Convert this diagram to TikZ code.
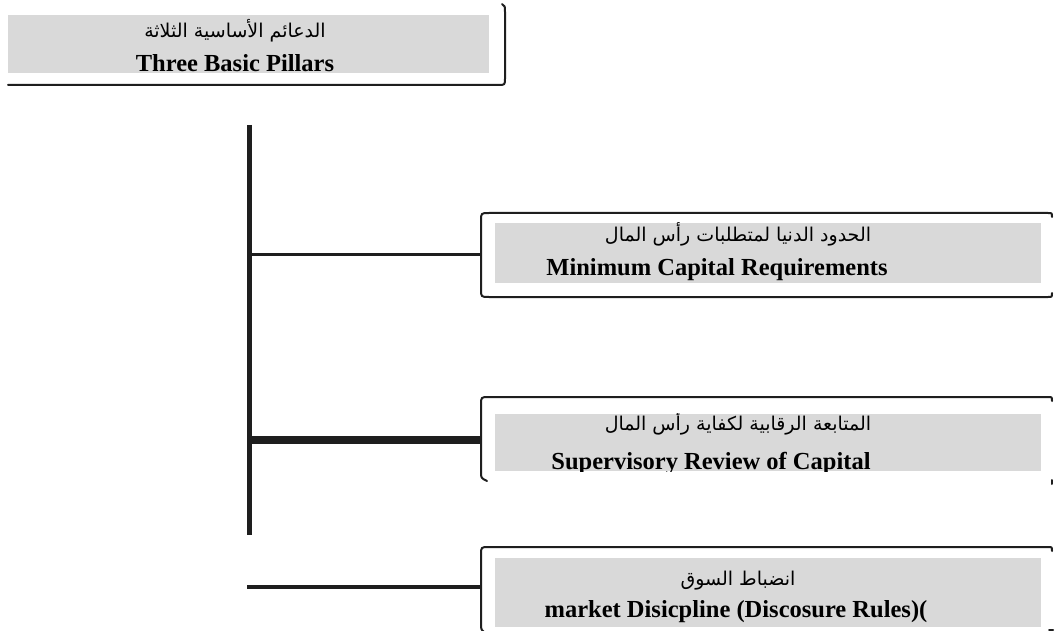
\documentclass[tikz,border=0pt]{standalone}
\usepackage{fontspec}
\setmainfont{Liberation Serif}
\newfontfamily\arabicfont[Script=Arabic]{DejaVu Sans}
\TeXXeTstate=1
\definecolor{panelgray}{HTML}{D9D9D9}
\definecolor{ink}{HTML}{1E1E1E}
\begin{document}
\begin{tikzpicture}[x=1pt,y=-1pt,
  panel/.style={fill=panelgray,draw=none,inner sep=0pt,rectangle},
  frame/.style={draw=ink,line width=2pt,line cap=round,line join=round},
  trunkline/.style={draw=ink,line width=5pt},
  entxt/.style={anchor=base,inner sep=0pt,font=\fontsize{24.5}{28}\selectfont\bfseries},
  artxt/.style={anchor=base,inner sep=0pt,font=\fontsize{19}{22}\selectfont\arabicfont}]
\useasboundingbox[fill=white] (0,0) rectangle (1055,631);

% grey panels
\node[panel,minimum width=481pt,minimum height=58pt] (p0) at (248.5,44) {};
\node[panel,minimum width=546pt,minimum height=60pt] (p1) at (768,253) {};
\node[panel,minimum width=546pt,minimum height=57pt] (p2) at (768,442.5) {};
\node[panel,minimum width=546pt,minimum height=69pt] (p3) at (768,592.5) {};

% captions, cut off at the panel edges
\begin{scope}
  \clip (p0.south west) rectangle (p0.north east);
  \node[artxt] (a0) at (235,38) {\beginR الدعائم الأساسية الثلاثة\endR};
  \node[entxt] (e0) at (235,72) {Three Basic Pillars};
\end{scope}
\begin{scope}
  \clip (p1.south west) rectangle (p1.north east);
  \node[artxt] (a1) at (738,241) {\beginR الحدود الدنيا لمتطلبات رأس المال\endR};
  \node[entxt] (e1) at (717,275) {Minimum Capital Requirements};
\end{scope}
\begin{scope}
  \clip (p2.south west) rectangle (p2.north east);
  \node[artxt] (a2) at (738,430) {\beginR المتابعة الرقابية لكفاية رأس  المال\endR};
  \node[entxt] (e2) at (711,469) {Supervisory Review of Capital};
\end{scope}
\begin{scope}
  \clip (p3.south west) rectangle (p3.north east);
  \node[artxt] (a3) at (738,585) {\beginR انضباط السوق\endR};
  \node[entxt] (e3) at (736,617) {market Disicpline (Discosure Rules)(};
\end{scope}

% frame of the title panel
\draw[frame] (8,85) -- (498,85) .. controls (505,85) .. (505,78) -- (505,12) .. controls (505,6) .. (502,4);

% frames of the three pillar panels
\draw[frame] (1052,217) .. controls (1052,213) .. (1048,213) -- (489,213)
  .. controls (481,213) .. (481,221) -- (481,289) .. controls (481,297) .. (489,297)
  -- (1048,297) .. controls (1052,297) .. (1052,293);
\draw[frame] (1052,401) .. controls (1052,397) .. (1048,397) -- (489,397)
  .. controls (481,397) .. (481,405) -- (481,472) .. controls (481,478) .. (487,481);
\draw[frame] (1052,480) -- (1052,484);
\draw[frame] (1052,551) .. controls (1052,547) .. (1048,547) -- (489,547)
  .. controls (481,547) .. (481,555) -- (481,624) .. controls (481,630) .. (487,634);
\draw[frame] (1049,630) -- (1053,630);

% connector tree
\coordinate (top) at (249,125);
\coordinate (bot) at (249,535);
\coordinate (t1) at (249,255);
\coordinate (t2) at (249,440);
\coordinate (t3) at (247,587);
\coordinate (b1) at (481,255);
\coordinate (b2) at (481,440);
\coordinate (b3) at (481,587);
\draw[trunkline] (top) -- (bot);
\draw[draw=ink,line width=3pt] (t1) -- (b1);
\draw[draw=ink,line width=8pt] (t2) -- (b2);
\draw[draw=ink,line width=4pt] (t3) -- (b3);
\end{tikzpicture}
\end{document}
